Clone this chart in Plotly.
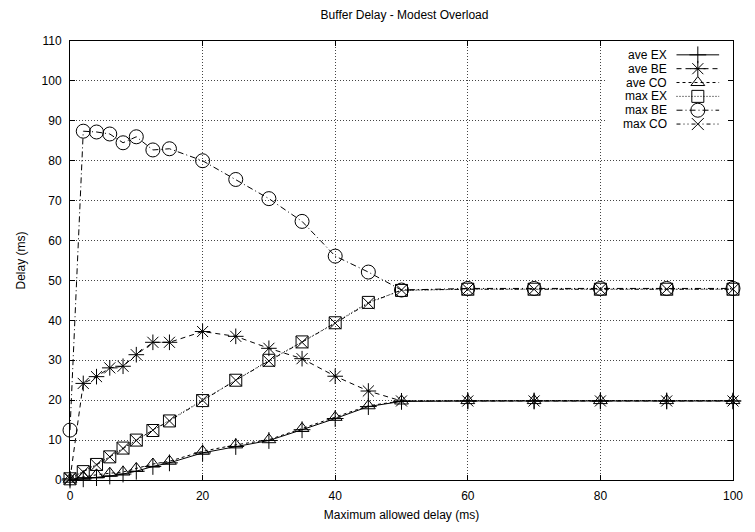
import plotly.graph_objects as go

# ---- data ----
x_delay = [0, 2, 4, 6, 8, 10, 12.5, 15, 20, 25, 30, 35, 40, 45, 50, 60, 70, 80, 90, 100]
ave_ex = [0.0, 0.3, 0.6, 1.0, 1.5, 2.2, 3.4, 4.3, 6.8, 8.4, 9.9, 12.6, 15.4, 18.4, 19.7, 19.8, 19.8, 19.8, 19.8, 19.8]
ave_be = [0.3, 24.2, 25.9, 28.1, 28.5, 31.4, 34.5, 34.5, 37.2, 36.0, 33.0, 30.4, 26.0, 22.3, 19.8, 19.8, 19.8, 19.8, 19.8, 19.8]
ave_co = [0.2, 0.8, 1.3, 1.7, 2.0, 2.9, 4.0, 4.7, 7.2, 8.8, 10.1, 12.9, 15.7, 18.6, 19.8, 19.9, 19.9, 19.9, 19.9, 19.9]
max_ex = [0.3, 2.1, 3.9, 5.8, 8.0, 10.0, 12.4, 14.8, 19.9, 25.0, 30.0, 34.6, 39.4, 44.5, 47.5, 47.8, 47.8, 47.8, 47.8, 47.8]
max_be = [12.5, 87.4, 87.2, 86.7, 84.5, 86.0, 82.7, 83.0, 80.0, 75.3, 70.5, 64.8, 56.1, 52.1, 47.6, 48.0, 48.0, 48.0, 48.0, 48.0]
max_co = [0.4, 2.0, 3.8, 5.8, 7.9, 9.9, 12.5, 14.8, 20.0, 25.0, 29.8, 34.5, 39.3, 44.3, 47.6, 47.8, 47.8, 47.8, 47.8, 47.8]

series_names = ["ave EX", "ave BE", "ave CO", "max EX", "max BE", "max CO"]
series_values = [ave_ex, ave_be, ave_co, max_ex, max_be, max_co]

x_ticks = [0, 20, 40, 60, 80, 100]
y_ticks = list(range(0, 111, 10))

# ---- styles ----
symbols = ["cross-thin-open", "asterisk-open", "triangle-up-open", "square-open", "circle-open", "x-thin-open"]
sizes = [12, 13, 12, 12, 14, 12]
dashes = ["solid", "5px,4px", "3px,3px", "1px,2px", "6px,3px,1px,3px", "4px,3px,1px,3px,1px,3px"]

FONT = "Liberation Sans, Arial, Helvetica, sans-serif"

fig = go.Figure()
for name, vals, sym, sz, dash in zip(series_names, series_values, symbols, sizes, dashes):
    fig.add_trace(go.Scatter(
        x=x_delay, y=vals, mode="lines+markers", name=name,
        line=dict(color="black", width=1, dash=dash),
        marker=dict(symbol=sym, size=sz, color="black",
                    line=dict(width=1, color="black")),
        showlegend=False, cliponaxis=False,
    ))

# ---- custom legend (text on the left, sample on the right, like gnuplot) ----
# x2/y2 ranges are mapped so that values are page pixel positions
legend_rows = [55, 69, 83, 97, 111, 125]
for name, sym, sz, dash, row in zip(series_names, symbols, sizes, dashes, legend_rows):
    fig.add_trace(go.Scatter(
        x=[682, 725], y=[row, row], mode="lines", xaxis="x2", yaxis="y2",
        line=dict(color="black", width=1, dash=dash),
        showlegend=False, hoverinfo="skip",
    ))
    fig.add_trace(go.Scatter(
        x=[703.5], y=[row], mode="markers", xaxis="x2", yaxis="y2",
        marker=dict(symbol=sym, size=sz, color="black", line=dict(width=1, color="black")),
        showlegend=False, hoverinfo="skip",
    ))
    fig.add_annotation(x=674, y=row, xref="x2", yref="y2", text=name,
                       showarrow=False, xanchor="right", yanchor="middle",
                       font=dict(family=FONT, size=12, color="black"))

# blank box behind legend (hides grid lines)
fig.add_shape(type="rect", xref="x", yref="y", x0=81, x1=99.4, y0=87.5, y1=108.6,
              fillcolor="white", line=dict(width=0), layer="between")

axis_common = dict(
    showline=True, linecolor="black", linewidth=1, mirror="ticks",
    ticks="inside", ticklen=5, tickcolor="black", tickwidth=1,
    showgrid=True, gridcolor="#444444", griddash="1px,2px", gridwidth=1,
    zeroline=False, ticklabelstandoff=5,
    tickfont=dict(family=FONT, size=12, color="black"),
)

fig.update_layout(
    width=755, height=532,
    margin=dict(l=70, r=16, t=41, b=47),
    paper_bgcolor="white", plot_bgcolor="white",
    font=dict(family=FONT, size=12, color="black"),
    title=dict(text="Buffer Delay - Modest Overload", x=0.5358, xanchor="center",
               y=0.972, yanchor="middle", font=dict(family=FONT, size=12, color="black")),
    xaxis=dict(range=[0, 100], tickvals=x_ticks,
               title=dict(text="Maximum allowed delay (ms)", standoff=8,
                          font=dict(family=FONT, size=12)), **axis_common),
    yaxis=dict(range=[0, 110], tickvals=y_ticks,
               title=dict(text="Delay (ms)", standoff=13,
                          font=dict(family=FONT, size=12)), **axis_common),
    xaxis2=dict(overlaying="x", range=[70, 739], visible=False, showgrid=False),
    yaxis2=dict(overlaying="y", range=[485, 41], visible=False, showgrid=False),
)

# remove the default page margin so the figure sits at the window's top-left corner
fig.write_html("out.html", config={"displayModeBar": False},
               post_script="document.body.style.margin='0';")
